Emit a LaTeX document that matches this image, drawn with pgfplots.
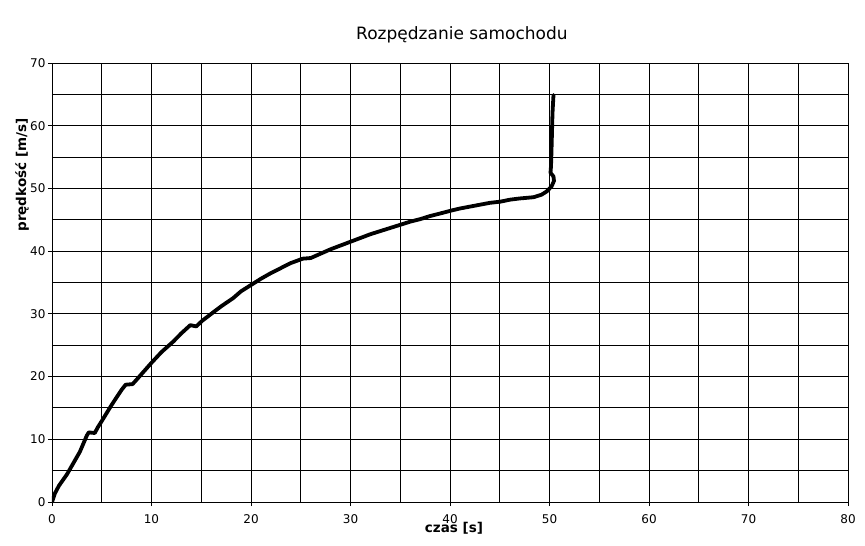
\documentclass[border=0pt]{standalone}
\usepackage{fontspec}
\setmainfont{DejaVu Sans}
\usepackage{pgfplots}
\pgfplotsset{compat=1.18}
\usetikzlibrary{calc}

\begin{document}
\begin{tikzpicture}
\begin{axis}[
    scale only axis,
    width=796pt,
    height=439pt,
    xmin=0, xmax=80,
    ymin=0, ymax=70,
    xtick={0,10,...,80},
    ytick={0,10,...,70},
    minor tick num=1,
    grid=both,
    major grid style={black, line width=0.9pt},
    minor grid style={black, line width=0.9pt},
    axis line style={black, line width=0.9pt},
    tick style={black, line width=0.9pt},
    tick align=outside,
    tick pos=left,
    major tick length=4pt,
    minor tick length=0pt,
    /pgf/number format/assume math mode=true,
    ticklabel style={font=\fontsize{12}{14}\selectfont},
    xticklabel style={yshift=-5pt},
    yticklabel style={xshift=1pt},
    title={Rozpędzanie samochodu},
    title style={at={(axis description cs:0.515,1)}, anchor=base, yshift=17pt,
        font=\fontsize{17}{20}\selectfont},
    xlabel={czas [s]},
    xlabel style={at={(axis description cs:0.505,0)}, anchor=center, yshift=-26pt,
        font=\fontsize{13.5}{16}\selectfont\bfseries},
    ylabel={prędkość [m/s]},
    ylabel style={at={(axis description cs:-0.0377,0.745)}, anchor=center, rotate=0,
        font=\fontsize{13.5}{16}\selectfont\bfseries},
]
\coordinate (sw) at (rel axis cs:0,0);
\coordinate (ne) at (rel axis cs:1,1);

% predkosc samochodu w czasie
\addplot[black, line width=3.8pt, line join=round, line cap=round] coordinates {
    (0,0) (0.3,1.4) (0.7,2.6) (1.5,4.4) (2.8,8.0) (3.5,10.6) (3.7,11.1)
    (4.3,11.0) (4.6,11.9) (5,12.9) (6,15.5) (7,17.9) (7.4,18.7) (8.1,18.8)
    (8.5,19.5) (9,20.4) (10,22.2) (11,23.9) (12.2,25.6) (13,26.9) (13.9,28.2)
    (14.5,28.0) (15.1,28.9) (16,30.0) (17,31.2) (18.2,32.5) (19,33.6)
    (20,34.6) (21,35.6) (22,36.5) (23,37.3) (24,38.1) (25.2,38.8) (26,38.9)
    (27,39.6) (28,40.3) (29,40.9) (30,41.5) (31,42.1) (32,42.7) (33,43.2)
    (34,43.7) (35,44.2) (36,44.7) (37,45.1) (38,45.6) (39,46.0) (40.2,46.5)
    (41,46.8) (42,47.1) (43,47.4) (44,47.7) (45.1,47.9) (46,48.2) (47,48.4)
    (48.4,48.6) (49.2,49.0) (49.7,49.5) (50.2,50.3) (50.45,51.2) (50.4,51.9)
    (50.1,52.5) (50.15,53.5) (50.2,56) (50.25,59) (50.3,62) (50.4,64.9)
};
\end{axis}
\pgfresetboundingbox
\path ($(sw)+(-52pt,-43pt)$) rectangle ($(ne)+(17pt,63pt)$);
\end{tikzpicture}
\end{document}
